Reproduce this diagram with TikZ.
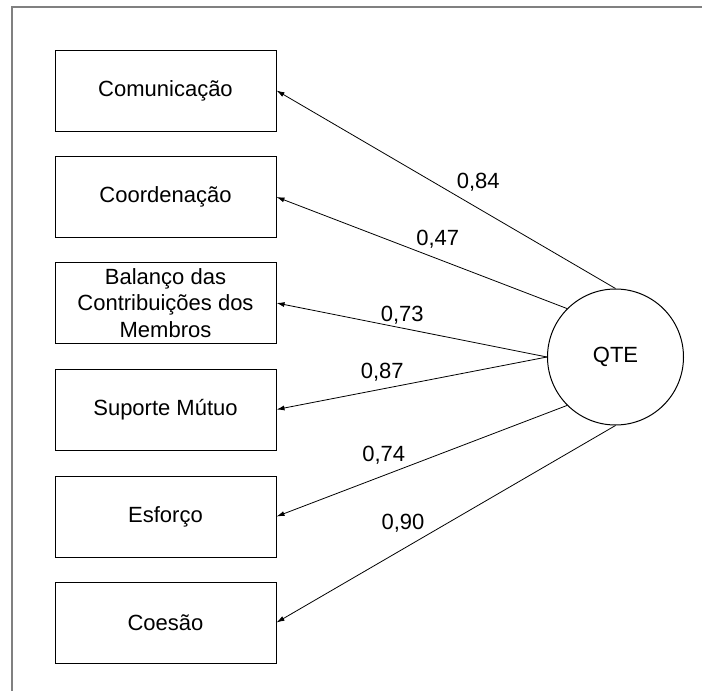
\documentclass[tikz,border=0pt]{standalone}
\usepackage{fontspec}
\setmainfont{Liberation Sans}
\usetikzlibrary{arrows.meta}

\begin{document}
\begin{tikzpicture}[x=1pt,y=-1pt]
                      \tikzstyle{box}=[rectangle,draw=black,line width=1pt,minimum width=221pt,minimum height=81pt,inner sep=0pt,align=center,font=\fontsize{22}{26.5}\selectfont]
                      \tikzstyle{latent}=[circle,draw=black,line width=1pt,minimum size=136pt,inner sep=0pt,font=\fontsize{22}{26.5}\selectfont]
                      \tikzstyle{load}=[-{Latex[length=8pt,width=5pt]},line width=0.8pt]
                      \tikzstyle{coef}=[inner sep=0pt,font=\fontsize{22}{26.5}\selectfont]
                      \useasboundingbox (0,0) rectangle (702,691);
                      \draw[gray,line width=1.5pt] (12,691) -- (12,7) -- (702,7);
                      \node[box] (com) at (165.5,90.5) {Comunicação};
                      \node[box] (coo) at (165.5,197) {Coordenação};
                      \node[box] (bal) at (165.5,303) {Balanço das\\Contribuições dos\\Membros};
                      \node[box] (sup) at (165.5,409.5) {Suporte Mútuo};
                      \node[box] (esf) at (165.5,516.5) {Esforço};
                      \node[box] (coe) at (165.5,622.5) {Coesão};
                      \node[latent] (qte) at (615.5,357) {QTE};
                      \draw[load] (qte.north) -- (com.east) node[coef,pos=0.405,yshift=26pt] {0,84};
                      \draw[load] (qte.north west) -- (coo.east) node[coef,pos=0.445,yshift=20pt] {0,47};
                      \draw[load] (qte.west) -- (bal.east) node[coef,pos=0.535,yshift=13pt] {0,73};
                      \draw[load] (qte.west) -- (sup.east) node[coef,pos=0.609,yshift=17pt] {0,87};
                      \draw[load] (qte.south west) -- (esf.east) node[coef,pos=0.631,yshift=20pt] {0,74};
                      \draw[load] (qte.south) -- (coe.east) node[coef,pos=0.627,yshift=26pt] {0,90};
                  \end{tikzpicture}
\end{document}
